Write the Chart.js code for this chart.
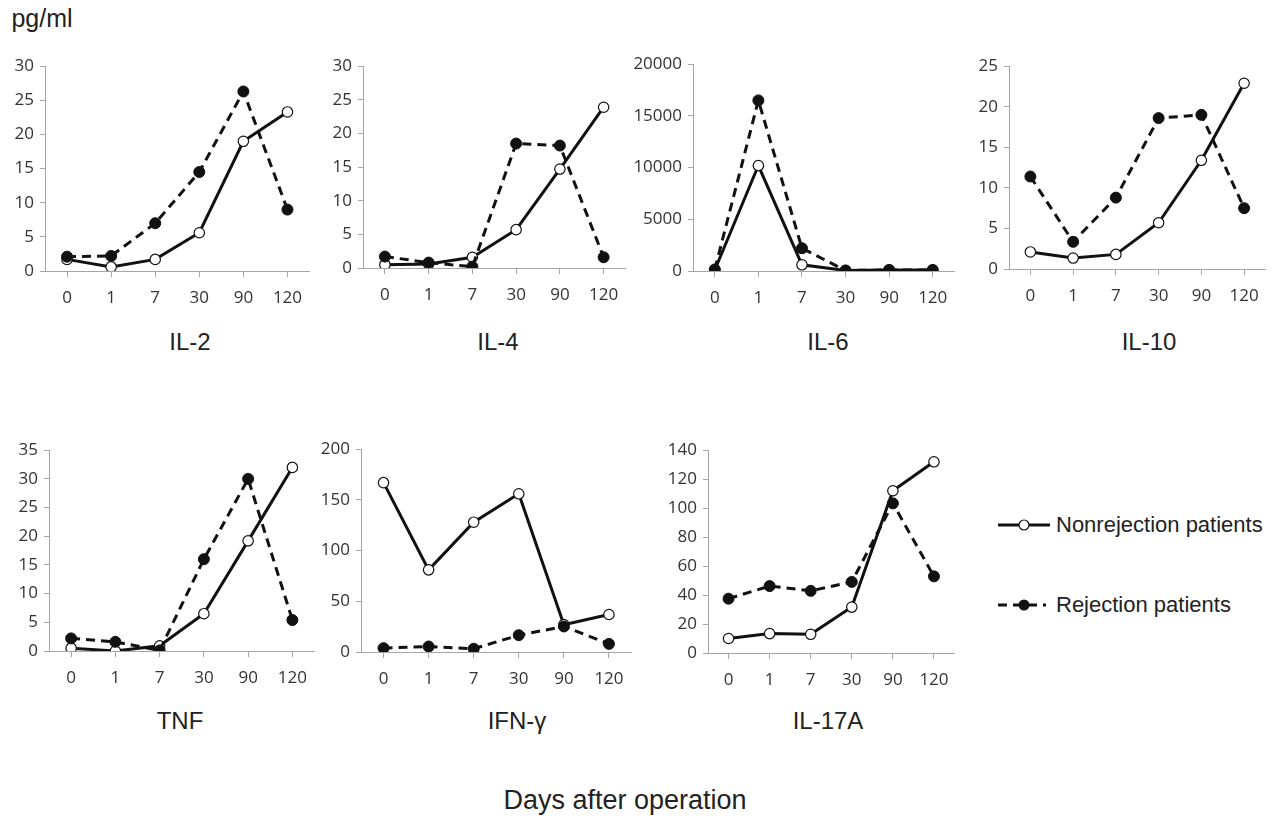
<!DOCTYPE html>
<html>
<head>
<meta charset="utf-8">
<script src="https://cdn.jsdelivr.net/npm/chart.js@4.4.1/dist/chart.umd.min.js"></script>
<style>
  body { margin: 0; background: #fff; }
  #wrap { position: relative; width: 1277px; height: 818px; overflow: hidden; font-family: "Liberation Sans", Arial, sans-serif; color: #222; }
  #wrap canvas { position: absolute; }
  .lbl { position: absolute; white-space: nowrap; transform: translate(-50%, -50%); font-size: 24px; }
  .leg { position: absolute; left: 996px; display: flex; align-items: center; font-size: 22px; }
  .leg svg { margin-right: 4px; }
</style>
</head>
<body>
<div id="wrap">
  <div class="lbl" style="left:42px;top:18px;font-size:25px">pg/ml</div>
  <div class="lbl" style="left:625px;top:800px;font-size:27px">Days after operation</div>
  <div class="leg" style="top:511px">
    <svg width="56" height="28"><line x1="2" y1="14" x2="54" y2="14" stroke="#111" stroke-width="3"/><circle cx="28" cy="14" r="5" fill="#fff" stroke="#111" stroke-width="1.2"/></svg>Nonrejection patients
  </div>
  <div class="leg" style="top:591px">
    <svg width="56" height="28"><line x1="2" y1="14" x2="50" y2="14" stroke="#111" stroke-width="3" stroke-dasharray="9,6"/><circle cx="28" cy="14" r="5.5" fill="#111"/></svg>Rejection patients
  </div>
</div>
<script>
var days = ['0', '1', '7', '30', '90', '120'];

// nonrejection (open circles) / rejection (filled circles), pg/ml
var il2Non = [1.7, 0.6, 1.7, 5.6, 19.0, 23.3];
var il2Rej = [2.1, 2.2, 7.0, 14.5, 26.3, 9.0];
var il4Non = [0.5, 0.6, 1.6, 5.7, 14.7, 23.9];
var il4Rej = [1.7, 0.8, 0.2, 18.5, 18.2, 1.6];
var il6Non = [100, 10200, 600, 50, 100, 100];
var il6Rej = [150, 16500, 2200, 50, 100, 100];
var il10Non = [2.1, 1.35, 1.8, 5.7, 13.4, 22.9];
var il10Rej = [11.4, 3.35, 8.8, 18.6, 19.0, 7.5];
var tnfNon = [0.5, 0.0, 0.9, 6.5, 19.2, 32.0];
var tnfRej = [2.2, 1.6, 0.1, 16.0, 30.0, 5.4];
var ifnNon = [167, 81, 128, 156, 27, 37];
var ifnRej = [3.8, 5.4, 3.2, 16.6, 25.2, 8];
var il17Non = [10.0, 13.4, 12.9, 31.7, 112, 132];
var il17Rej = [37.5, 46.2, 42.9, 49.1, 103.3, 52.9];

var yMax = [30, 30, 20000, 25, 35, 200, 140];
var yStep = [5, 5, 5000, 5, 5, 50, 20];
var names = ['IL-2', 'IL-4', 'IL-6', 'IL-10', 'TNF', 'IFN-\u03b3', 'IL-17A'];

var panels = [
  {non: il2Non, rej: il2Rej, ax: 45, top: 60, bottom: 271, right: 310, yw: 45, tx: 190, ty: 342},
  {non: il4Non, rej: il4Rej, ax: 363, top: 60, bottom: 268, right: 626, yw: 45, tx: 498, ty: 342},
  {non: il6Non, rej: il6Rej, ax: 693, top: 58, bottom: 271, right: 955, yw: 68, tx: 828, ty: 342},
  {non: il10Non, rej: il10Rej, ax: 1009, top: 60, bottom: 269, right: 1266, yw: 45, tx: 1149, ty: 342},
  {non: tnfNon, rej: tnfRej, ax: 49, top: 444, bottom: 651, right: 315, yw: 49, tx: 180, ty: 721},
  {non: ifnNon, rej: ifnRej, ax: 361, top: 443, bottom: 652, right: 632, yw: 52, tx: 517, ty: 721},
  {non: il17Non, rej: il17Rej, ax: 708, top: 444, bottom: 653, right: 955, yw: 52, tx: 828, ty: 721}
];

var PADTOP = 10, PADRIGHT = 6, XH = 44;
var axisGray = '#a6a6a6';
var tickFont = {family: '"Open Sans", sans-serif', size: 17};

var wrap = document.getElementById('wrap');

panels.forEach(function(p, i) {
  var cv = document.createElement('canvas');
  var w = p.yw + (p.right - p.ax) + PADRIGHT;
  var h = PADTOP + (p.bottom - p.top) + XH;
  cv.style.left = (p.ax - p.yw) + 'px';
  cv.style.top = (p.top - PADTOP) + 'px';
  cv.style.width = w + 'px';
  cv.style.height = h + 'px';
  cv.width = w;
  cv.height = h;
  wrap.appendChild(cv);

  var t = document.createElement('div');
  t.className = 'lbl';
  t.style.left = p.tx + 'px';
  t.style.top = p.ty + 'px';
  t.textContent = names[i];
  wrap.appendChild(t);

  new Chart(cv, {
    type: 'line',
    data: {
      labels: days,
      datasets: [
        {
          label: 'Rejection patients',
          data: p.rej,
          borderColor: '#111',
          borderWidth: 3,
          borderDash: [9, 6],
          pointRadius: 5.5,
          pointBackgroundColor: '#111',
          pointBorderColor: '#111',
          pointBorderWidth: 1,
          tension: 0
        },
        {
          label: 'Nonrejection patients',
          data: p.non,
          borderColor: '#111',
          borderWidth: 3,
          pointRadius: 5.2,
          pointBackgroundColor: '#fff',
          pointBorderColor: '#111',
          pointBorderWidth: 1.2,
          tension: 0
        }
      ]
    },
    options: {
      responsive: false,
      animation: false,
      layout: {padding: {top: PADTOP, right: PADRIGHT, left: 0, bottom: 0}},
      plugins: {legend: {display: false}, tooltip: {enabled: false}},
      scales: {
        x: {
          offset: true,
          grid: {offset: false, drawOnChartArea: false, color: axisGray, tickLength: 6},
          border: {color: axisGray, width: 1},
          ticks: {color: '#333', font: tickFont, padding: 11, maxRotation: 0},
          afterFit: function(s) { s.height = XH; }
        },
        y: {
          min: 0,
          max: yMax[i],
          grid: {drawOnChartArea: false, color: axisGray, tickLength: 5},
          border: {color: axisGray, width: 1},
          ticks: {
            stepSize: yStep[i],
            color: '#333',
            font: tickFont,
            padding: 6,
            callback: function(v) { return String(v); }
          },
          afterFit: function(s) { s.width = p.yw; }
        }
      }
    }
  });
});
</script>
</body>
</html>
